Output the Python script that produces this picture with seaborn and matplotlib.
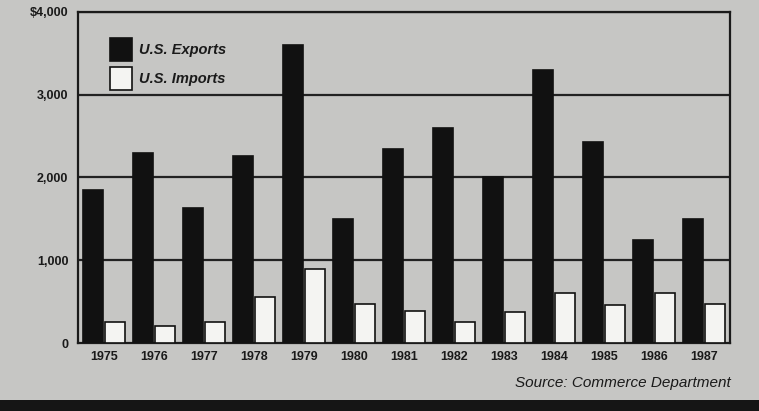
import matplotlib
matplotlib.use("Agg")
import matplotlib.pyplot as plt
import seaborn as sns
import pandas as pd
from matplotlib.patches import Rectangle

years = ["1975", "1976", "1977", "1978", "1979", "1980", "1981",
         "1982", "1983", "1984", "1985", "1986", "1987"]
exports = [1850, 2300, 1630, 2260, 3600, 1500, 2350, 2600, 2000, 3300, 2430, 1250, 1500]
imports = [250, 200, 250, 550, 890, 470, 390, 250, 370, 610, 460, 610, 470]
series_names = ["U.S. Exports", "U.S. Imports"]
ytick_vals = [0, 1000, 2000, 3000, 4000]
ytick_labels = ["0", "1,000", "2,000", "3,000", "$4,000"]
source_text = "Source: Commerce Department"

df = pd.DataFrame({
    "year": years * 2,
    "value": exports + imports,
    "series": [series_names[0]] * len(years) + [series_names[1]] * len(years),
})

sns.set_style("white")
plt.rcParams["font.family"] = ["Liberation Sans", "DejaVu Sans"]

bg = "#c6c6c4"
fig = plt.figure(figsize=(7.59, 4.11), dpi=100, facecolor=bg)
ax = fig.add_axes([78 / 759, 1 - 343 / 411, (730 - 78) / 759, (343 - 12) / 411])
ax.set_facecolor(bg)

sns.barplot(data=df, x="year", y="value", hue="series", order=years,
            hue_order=series_names, palette=["#111111", "#f4f4f2"],
            width=0.86, gap=0.07, edgecolor="#111111", linewidth=1.2, saturation=1,
            ax=ax, zorder=3)

ax.set_xlim(-0.52, len(years) - 0.48)
ax.set_ylim(0, 4000)
ax.set_yticks(ytick_vals)
ax.set_yticklabels(ytick_labels, fontsize=9, fontweight="bold", color="#1a1a1a")
ax.tick_params(axis="y", length=5, width=1.2, color="#1a1a1a", pad=2, direction="out")
ax.tick_params(axis="x", length=0, pad=6)
for lab in ax.get_xticklabels():
    lab.set_fontsize(9)
    lab.set_fontweight("bold")
    lab.set_color("#1a1a1a")
ax.set_xlabel("")
ax.set_ylabel("")

for y in ytick_vals[1:]:
    ax.axhline(y, color="#222222", linewidth=1.6, zorder=1)

for side in ["left", "right", "bottom", "top"]:
    ax.spines[side].set_visible(True)
    ax.spines[side].set_color("#1a1a1a")
    ax.spines[side].set_linewidth(1.6)

leg = ax.legend(loc="upper left", bbox_to_anchor=(0.049, 0.921), frameon=False,
                fontsize=10.5, handlelength=1.5, handleheight=2.0, borderpad=0,
                handletextpad=0.5, labelspacing=0.45, borderaxespad=0)
for t in leg.get_texts():
    t.set_fontweight("bold")
    t.set_fontstyle("italic")
    t.set_color("#1a1a1a")

fig.text(731 / 759, 1 - 383 / 411, source_text, ha="right", va="center",
         fontsize=11, fontstyle="italic", color="#1a1a1a")

fig.patches.append(Rectangle((0, 0), 1, 11 / 411, transform=fig.transFigure,
                             facecolor="#151515", edgecolor="none", zorder=0))

fig.savefig("out.png", dpi=100, facecolor=bg)
